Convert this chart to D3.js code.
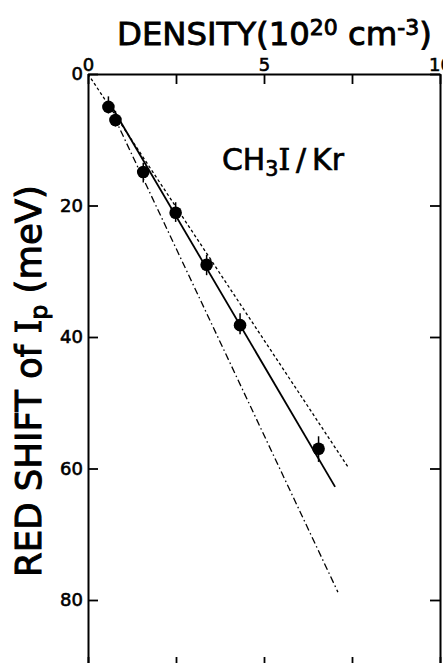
<!DOCTYPE html>
<html>
<head>
<meta charset="utf-8">
<script src="https://cdn.jsdelivr.net/npm/d3@7"></script>
<style>
  body { margin: 0; background: #fff; }
  text { font-family: "DejaVu Sans", "Liberation Sans", sans-serif; fill: #000; }
</style>
</head>
<body>
<div id="chartbox"></div>
<script>
// measured points, density in 10^20 cm^-3, red shift in meV
var density = [0.58, 0.78, 1.57, 2.49, 3.37, 4.32, 6.55];
var shift   = [5.0, 7.0, 14.9, 21.1, 29.0, 38.2, 57.0];
var errUp   = [1.6, 1.4, 1.4, 1.6, 1.5, 1.8, 1.9];
var errDown = [1.0, 1.0, 1.6, 1.4, 1.6, 1.4, 2.0];

// the three guide lines, [x, y] ends
var dashedLine  = [[0, 0], [7.39, 59.8]];
var solidLine   = [[0.6, 4.3], [7.02, 62.8]];
var dashDotLine = [[0.75, 6.6], [7.1, 78.8]];

var xTicks = [0, 2.5, 5, 7.5, 10];
var yTicks = [0, 20, 40, 60, 80];

const width = 443;
const height = 663;
var margin = {top: 74, left: 88, right: 3, bottom: -7};

var svg = d3.select('#chartbox').append('svg')
  .attr('width', width).attr('height', height);

var x = d3.scaleLinear().domain([0, 10]).range([margin.left, width - margin.right]);
var y = d3.scaleLinear().domain([0, 80]).range([margin.top, 600]);
var yBottom = height - margin.bottom;

// shrink/grow a text so it spans a given width
function fitText(sel, w) {
  var fs = parseFloat(sel.style('font-size'));
  var len = sel.node().getComputedTextLength();
  sel.style('font-size', (fs * w / len) + 'px');
  sel.selectAll('tspan').each(function() {
    var ts = d3.select(this);
    if (this.style.fontSize) ts.style('font-size', (parseFloat(this.style.fontSize) * w / len) + 'px');
  });
}

// frame axes
function styleAxis(g) {
  g.select('.domain').attr('stroke-width', 2);
  g.selectAll('.tick line').attr('stroke-width', 1.8);
  g.selectAll('text').attr('fill', '#000').attr('font-family', null)
    .attr('stroke', '#000').attr('stroke-width', 0.6)
    .style('font-size', '18px');
}
svg.append('g').attr('transform', 'translate(0,' + margin.top + ')')
  .call(d3.axisTop(x).tickValues(xTicks).tickSize(-10).tickSizeOuter(0).tickPadding(3)
    .tickFormat(d => d % 5 === 0 ? d : ''))
  .call(styleAxis);
svg.append('g').attr('transform', 'translate(0,' + yBottom + ')')
  .call(d3.axisBottom(x).tickValues(xTicks).tickSize(-13).tickSizeOuter(0).tickFormat(''))
  .call(styleAxis);
var yAx = d3.scaleLinear().domain([0, 80 * (yBottom - margin.top) / (600 - margin.top)]).range([margin.top, yBottom]);
svg.append('g').attr('transform', 'translate(' + margin.left + ',0)')
  .call(d3.axisLeft(yAx).tickValues(yTicks).tickSize(-10).tickSizeOuter(0).tickPadding(5))
  .call(styleAxis);
svg.append('g').attr('transform', 'translate(' + (width - margin.right) + ',0)')
  .call(d3.axisRight(yAx).tickValues(yTicks).tickSize(-10).tickSizeOuter(0).tickFormat(''))
  .call(styleAxis);

// guide lines
var line = d3.line().x(d => x(d[0])).y(d => y(d[1]));
svg.append('path').attr('d', line(dashedLine)).attr('fill', 'none')
  .attr('stroke', '#000').attr('stroke-width', 1.3).attr('stroke-dasharray', '3,2.5');
svg.append('path').attr('d', line(solidLine)).attr('fill', 'none')
  .attr('stroke', '#000').attr('stroke-width', 1.8);
svg.append('path').attr('d', line(dashDotLine)).attr('fill', 'none')
  .attr('stroke', '#000').attr('stroke-width', 1.3).attr('stroke-dasharray', '7,3,1.5,3');

// error bars + points
var pts = density.map((d, i) => ({x: d, y: shift[i], up: errUp[i], down: errDown[i]}));
svg.selectAll('line.err').data(pts).enter().append('line')
  .attr('x1', d => x(d.x)).attr('x2', d => x(d.x))
  .attr('y1', d => y(d.y - d.up)).attr('y2', d => y(d.y + d.down))
  .attr('stroke', '#000').attr('stroke-width', 1.5);
svg.selectAll('circle').data(pts).enter().append('circle')
  .attr('cx', d => x(d.x)).attr('cy', d => y(d.y)).attr('r', 6.3).attr('fill', '#000');

// title
var t = svg.append('text').attr('x', 117).attr('y', 45)
  .style('font-size', '28px').attr('stroke', '#000').attr('stroke-width', 0.9);
t.append('tspan').text('DENSITY(10');
t.append('tspan').text('20').attr('dy', -10).style('font-size', '19px');
t.append('tspan').text(' cm').attr('dy', 10);
t.append('tspan').text('-3').attr('dy', -10).style('font-size', '19px');
t.append('tspan').text(')').attr('dy', 10);
fitText(t, 315);

// sample label
var s = svg.append('text').attr('x', 222).attr('y', 170)
  .style('font-size', '26px').attr('stroke', '#000').attr('stroke-width', 0.7);
s.append('tspan').text('CH');
s.append('tspan').text('3').attr('dy', 6).style('font-size', '18px');
s.append('tspan').text('I').attr('dy', -6).style('font-family', '"DejaVu Serif", serif');
s.append('tspan').text('\u2009/\u2009Kr');
fitText(s, 122);

// y title
var yl = svg.append('text').attr('transform', 'translate(41,381) rotate(-90)')
  .attr('text-anchor', 'middle').style('font-size', '26px')
  .attr('stroke', '#000').attr('stroke-width', 1);
yl.append('tspan').text('RED SHIFT of ');
yl.append('tspan').text('I').style('font-family', '"DejaVu Serif", serif');
yl.append('tspan').text('p').attr('dy', 6).style('font-size', '17px');
yl.append('tspan').text('  (meV)').attr('dy', -6);
fitText(yl, 392);
</script>
</body>
</html>
